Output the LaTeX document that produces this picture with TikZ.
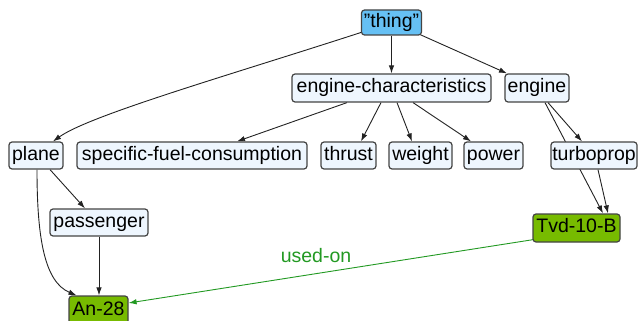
\documentclass[tikz,border=0pt]{standalone}
\usepackage{fontspec}
\setmainfont{Liberation Sans}
\usetikzlibrary{arrows.meta,backgrounds}
\definecolor{nodefill}{HTML}{EEF6FE}
\definecolor{nodeborder}{HTML}{444444}
\definecolor{thingfill}{HTML}{66C0F4}
\definecolor{greenfill}{HTML}{77BB00}
\definecolor{edgegreen}{HTML}{229922}
\definecolor{edgeblack}{HTML}{222222}
\begin{document}
\begin{tikzpicture}[x=1pt,y=-1pt,
  box/.style={draw=nodeborder, line width=1.2pt, fill=nodefill, rounded corners=3pt,
    inner sep=1pt, text height=14.5pt, text depth=4.5pt, minimum height=27pt,
    font=\fontsize{19.5}{20}\selectfont, text=black},
  rootbox/.style={box, fill=thingfill, minimum height=25pt},
  greenbox/.style={box, fill=greenfill, minimum height=28pt},
  edge/.style={draw=edgeblack, line width=0.9pt, -{Latex[length=8pt,width=5.5pt]}},
  greenedge/.style={draw=edgegreen, line width=0.9pt, -{Latex[length=8pt,width=5.5pt]}},
  lbl/.style={text=edgegreen, inner sep=0pt, font=\fontsize{19.5}{20}\selectfont}
]
\useasboundingbox (0,0) rectangle (641,321);
\node[rootbox, minimum width=60pt] (thing) at (391.5,22.5) {"thing"};
\node[box, minimum width=199pt, minimum height=28pt] (ec) at (391.5,88) {engine-characteristics};
\node[box, minimum width=64pt, minimum height=28pt] (engine) at (537,88) {engine};
\node[box, minimum width=54pt] (plane) at (36,155.5) {plane};
\node[box, minimum width=230pt] (sfc) at (192,155.5) {specific-fuel-consumption};
\node[box, minimum width=55pt] (thrust) at (348.5,155.5) {thrust};
\node[box, minimum width=63pt] (weight) at (420.5,155.5) {weight};
\node[box, minimum width=59pt] (power) at (493.5,155.5) {power};
\node[box, minimum width=86pt] (turbo) at (594,155.5) {turboprop};
\node[box, minimum width=98pt] (pass) at (99,222.5) {passenger};
\node[greenbox, minimum width=87pt] (tvd) at (576.5,228) {Tvd-10-B};
\node[greenbox, minimum width=59pt] (an) at (98.5,310) {An-28};
\begin{scope}[on background layer]
\draw[edge] ([yshift=-10pt]thing.west) .. controls (230,75) and (90,115) .. ([xshift=17pt]plane.north);
\draw[edge] (thing.south) -- (ec.north);
\draw[edge] ([xshift=-2pt,yshift=1pt]thing.south east) -- ([xshift=-30pt]engine.north);
\draw[edge] ([xshift=-44.5pt]ec.south) -- ([xshift=45pt]sfc.north);
\draw[edge] ([xshift=-10.5pt]ec.south) -- ([xshift=12.5pt]thrust.north);
\draw[edge] ([xshift=5.5pt]ec.south) -- ([xshift=-8.5pt]weight.north);
\draw[edge] ([xshift=21.5pt]ec.south) -- ([xshift=-22.5pt]power.north);
\draw[edge] ([xshift=11pt]engine.south) -- ([xshift=-12pt]turbo.north);
\draw[edge] ([xshift=8pt]engine.south) -- ([xshift=26.5pt]tvd.north);
\draw[edge] ([xshift=4pt]turbo.south) -- ([xshift=31.5pt]tvd.north);
\draw[edge] ([xshift=14pt]plane.south) -- ([xshift=-14pt]pass.north);
\draw[edge] ([xshift=1pt]plane.south) .. controls (37,240) and (45,282) .. ([xshift=-22pt]an.north);
\draw[edge] (pass.south) -- (pass.south |- an.north);
\draw[greenedge] ([xshift=1pt,yshift=3pt]tvd.south west) -- node[lbl, pos=0.537, above=11pt] {used-on} ([yshift=7pt]an.east);
\end{scope}
\end{tikzpicture}
\end{document}
